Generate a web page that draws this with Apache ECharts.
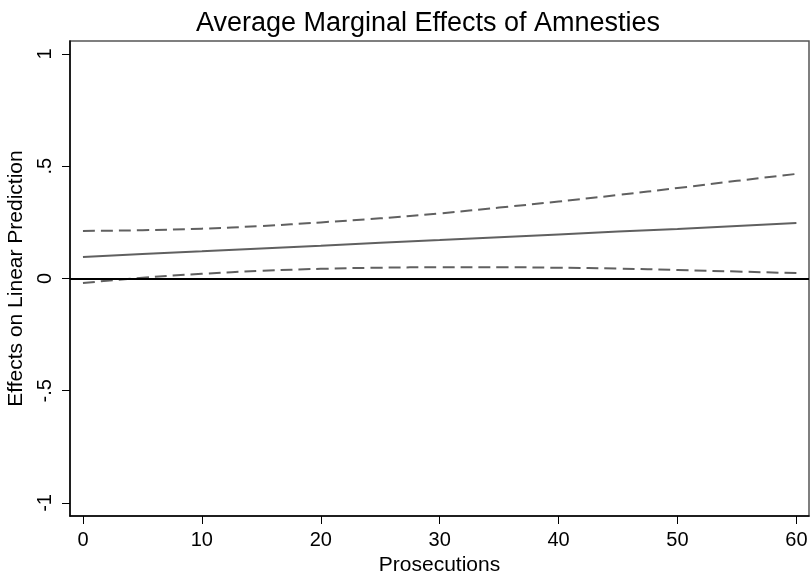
<!DOCTYPE html>
<html>
<head>
<meta charset="utf-8">
<script src="https://cdn.jsdelivr.net/npm/echarts@6/dist/echarts.min.js"></script>
<style>html,body{margin:0;padding:0;background:#fff}#c{width:810px;height:575px}</style>
</head>
<body>
<div id="c"></div>
<script>
const prosecutions = [0, 5, 10, 15, 20, 25, 30, 35, 40, 45, 50, 55, 60];
const effect = [0.096, 0.109, 0.121, 0.134, 0.146, 0.159, 0.171, 0.184, 0.196, 0.209, 0.221, 0.234, 0.247];
const upper = [0.212, 0.215, 0.222, 0.234, 0.250, 0.268, 0.290, 0.316, 0.343, 0.372, 0.403, 0.435, 0.466];
const lower = [-0.020, 0.003, 0.021, 0.034, 0.043, 0.048, 0.050, 0.050, 0.048, 0.044, 0.038, 0.031, 0.024];
const xTicks = [0, 10, 20, 30, 40, 50, 60];
const yTicks = [-1, -0.5, 0, 0.5, 1];
const yTickLabels = ['-1', '-.5', '0', '.5', '1'];

const pair = arr => prosecutions.map((x, i) => [x, arr[i]]);
const font = 'Liberation Sans, Helvetica, Arial, sans-serif';

const chart = echarts.init(document.getElementById('c'));
chart.setOption({
  animation: false,
  backgroundColor: '#fff',
  title: {
    text: 'Average Marginal Effects of Amnesties',
    left: 423, top: 5, textAlign: 'center',
    textStyle: {fontFamily: font, fontSize: 27, fontWeight: 'normal', color: '#000'}
  },
  grid: {left: 70, right: 1, top: 41, bottom: 59, show: true, borderColor: '#555', borderWidth: 1.5, backgroundColor: '#fff', outerBoundsMode: 'none', containLabel: false},
  xAxis: {
    type: 'value', min: -1.09, max: 61.06,
    name: 'Prosecutions', nameLocation: 'middle', nameGap: 37,
    nameTextStyle: {fontFamily: font, fontSize: 21, color: '#000'},
    axisLine: {show: true, onZero: false, lineStyle: {color: '#000', width: 1.5}},
    axisTick: {show: true, length: 8, customValues: xTicks, lineStyle: {color: '#000', width: 1}},
    axisLabel: {customValues: xTicks, margin: 14, fontFamily: font, fontSize: 20, color: '#000'},
    splitLine: {show: false}
  },
  yAxis: {
    type: 'value', min: -1.058, max: 1.058,
    name: 'Effects on Linear Prediction', nameLocation: 'middle', nameGap: 39, nameRotate: 90,
    nameTextStyle: {fontFamily: font, fontSize: 21, color: '#000'},
    axisLine: {show: true, onZero: false, lineStyle: {color: '#000', width: 1.5}},
    axisTick: {show: true, length: 8, customValues: yTicks, lineStyle: {color: '#000', width: 1}},
    axisLabel: {
      customValues: yTicks, rotate: 90, margin: 15, fontFamily: font, fontSize: 20, color: '#000',
      formatter: v => { const i = yTicks.findIndex(t => Math.abs(t - v) < 1e-9); return i >= 0 ? yTickLabels[i] : ''; }
    },
    splitLine: {show: false}
  },
  series: [
    {
      type: 'line', data: pair(upper), symbol: 'none', smooth: true,
      lineStyle: {color: '#606060', width: 2, type: [12, 6]}
    },
    {
      type: 'line', data: pair(effect), symbol: 'none',
      lineStyle: {color: '#606060', width: 2},
      markLine: {
        silent: true, symbol: 'none', label: {show: false},
        lineStyle: {color: '#000', width: 2, type: 'solid'},
        data: [{yAxis: 0}]
      }
    },
    {
      type: 'line', data: pair(lower), symbol: 'none', smooth: true,
      lineStyle: {color: '#606060', width: 2, type: [12, 6]}
    }
  ]
});
</script>
</body>
</html>
